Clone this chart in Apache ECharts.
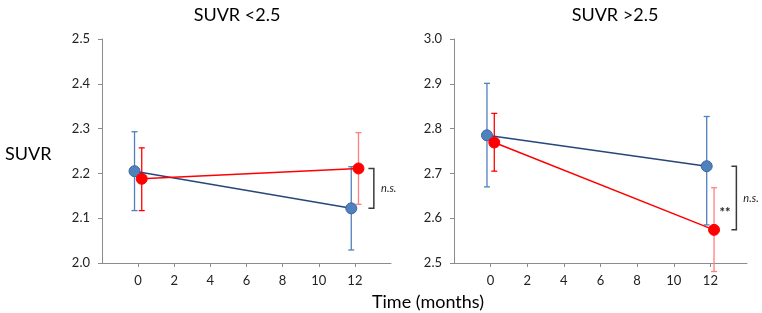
<!DOCTYPE html>
<html><head><meta charset="utf-8">
<script src="https://cdn.jsdelivr.net/npm/echarts@6/dist/echarts.min.js"></script>
<style>html,body{margin:0;padding:0;background:#fff}#c{width:762px;height:313px}</style>
</head><body><div id="c"></div>
<script>
// ---- data ----
const xTicks = [0, 2, 4, 6, 8, 10, 12];
const titles = ['SUVR <2.5', 'SUVR >2.5'];
// Left panel (SUVR < 2.5)
const lBlueX = [-0.2, 11.8], lBlueY = [2.205, 2.122], lBlueLo = [2.117, 2.029], lBlueHi = [2.293, 2.215];
const lRedX = [0.2, 12.2], lRedY = [2.188, 2.211], lRedLo = [2.117, 2.131], lRedHi = [2.257, 2.291];
// Right panel (SUVR > 2.5)
const rBlueX = [-0.2, 11.8], rBlueY = [2.785, 2.716], rBlueLo = [2.670, 2.585], rBlueHi = [2.901, 2.827];
const rRedX = [0.2, 12.2], rRedY = [2.769, 2.574], rRedLo = [2.705, 2.481], rRedHi = [2.834, 2.668];
// annotations: bracket [x0, x1, yTop, yBottom], texts [x, y, label]
const lBracket = [12.75, 13.05, 2.211, 2.122];
const rBracket = [13.15, 13.42, 2.716, 2.574];
const lTexts = [[13.45, 2.167, 'n.s.']];
const rTexts = [[13.8, 2.645, 'n.s.'], [12.5, 2.611, '**']];

const FONT = 'Lato, "Open Sans", sans-serif';
const BLUE = '#4F81BD', BLUE_LINE = '#27467A', RED = '#FF0000';

function pts(xs, ys) { return xs.map((x, i) => [x, ys[i]]); }
function bars(xs, lo, hi) { return xs.map((x, i) => [x, lo[i], hi[i]]); }

function errSeries(gi, data, colors) {
  return {
    type: 'custom', xAxisIndex: gi, yAxisIndex: gi, z: 1, clip: false,
    data: data,
    renderItem: function (params, api) {
      const x = api.value(0);
      const a = api.coord([x, api.value(1)]);
      const b = api.coord([x, api.value(2)]);
      const c = 3;
      const col = colors[params.dataIndex];
      const st = { stroke: col, lineWidth: 1.3 };
      return { type: 'group', children: [
        { type: 'line', shape: { x1: a[0], y1: a[1], x2: b[0], y2: b[1] }, style: st },
        { type: 'line', shape: { x1: a[0] - c, y1: a[1], x2: a[0] + c, y2: a[1] }, style: st },
        { type: 'line', shape: { x1: b[0] - c, y1: b[1], x2: b[0] + c, y2: b[1] }, style: st }
      ]};
    }
  };
}
function lineSeries(gi, data, lineColor, fill, border) {
  return {
    type: 'line', xAxisIndex: gi, yAxisIndex: gi, z: 3, data: data,
    symbol: 'circle', symbolSize: 11,
    lineStyle: { color: lineColor, width: 1.5 },
    itemStyle: { color: fill, borderColor: border, borderWidth: 1 },
    emphasis: { disabled: true }, animation: false
  };
}
function bracketSeries(gi, b) {
  return {
    type: 'custom', xAxisIndex: gi, yAxisIndex: gi, z: 4, clip: false,
    data: [b],
    renderItem: function (params, api) {
      const p0 = api.coord([api.value(0), api.value(2)]);
      const p1 = api.coord([api.value(1), api.value(2)]);
      const p2 = api.coord([api.value(1), api.value(3)]);
      const p3 = api.coord([api.value(0), api.value(3)]);
      return { type: 'polyline', shape: { points: [p0, p1, p2, p3] },
        style: { stroke: '#3a3a3a', lineWidth: 1.5, fill: null } };
    }
  };
}
function textSeries(gi, data) {
  return {
    type: 'custom', xAxisIndex: gi, yAxisIndex: gi, z: 5, clip: false,
    data: data,
    renderItem: function (params, api) {
      const p = api.coord([api.value(0), api.value(1)]);
      const t = data[params.dataIndex][2];
      return { type: 'text', x: p[0], y: p[1],
        style: { text: t, fill: '#222', font: (t === '**' ? 'bold 13px ' : 'italic 11px ') + FONT,
          textAlign: 'left', textVerticalAlign: 'middle' } };
    }
  };
}
function xAxis(gi) {
  return {
    type: 'value', gridIndex: gi, min: -2, max: 14, interval: 2,
    axisLine: { onZero: false, lineStyle: { color: '#8c8c8c', width: 1 } },
    axisTick: { show: true, length: 4, lineStyle: { color: '#8c8c8c' }, customValues: xTicks },
    axisLabel: { color: '#222', fontSize: 13, fontFamily: FONT, margin: 11, customValues: xTicks },
    splitLine: { show: false }
  };
}
function yAxis(gi, min, max) {
  return {
    type: 'value', gridIndex: gi, min: min, max: max, interval: 0.1,
    axisLine: { show: true, onZero: false, lineStyle: { color: '#8c8c8c', width: 1 } },
    axisTick: { show: true, length: 4, lineStyle: { color: '#8c8c8c' } },
    axisLabel: { color: '#222', fontSize: 13, fontFamily: FONT, margin: 12,
      formatter: v => v.toFixed(1) },
    splitLine: { show: false }
  };
}

const chart = echarts.init(document.getElementById('c'));
chart.setOption({
  animation: false,
  title: [
    { text: titles[0], left: 232, top: 1, textAlign: 'center', textStyle: { fontSize: 18, fontWeight: 'normal', color: '#000', fontFamily: FONT } },
    { text: titles[1], left: 610, top: 1, textAlign: 'center', textStyle: { fontSize: 18, fontWeight: 'normal', color: '#000', fontFamily: FONT } },
    { text: 'SUVR', left: 0, top: 140, textStyle: { fontSize: 18, fontWeight: 'normal', color: '#000', fontFamily: FONT } },
    { text: 'Time (months)', left: 423, top: 288, textAlign: 'center', textStyle: { fontSize: 18, fontWeight: 'normal', color: '#000', fontFamily: FONT } }
  ],
  grid: [
    { left: 102, top: 39, width: 289, height: 224 },
    { left: 454, top: 39, width: 293, height: 224 }
  ],
  xAxis: [xAxis(0), xAxis(1)],
  yAxis: [yAxis(0, 2.0, 2.5), yAxis(1, 2.5, 3.0)],
  series: [
    errSeries(0, bars(lBlueX, lBlueLo, lBlueHi), [BLUE, BLUE]),
    errSeries(0, bars(lRedX, lRedLo, lRedHi), [RED, '#FF7F7F']),
    lineSeries(0, pts(lBlueX, lBlueY), BLUE_LINE, BLUE, '#3B64A0'),
    lineSeries(0, pts(lRedX, lRedY), RED, RED, RED),
    bracketSeries(0, lBracket),
    textSeries(0, lTexts),
    errSeries(1, bars(rBlueX, rBlueLo, rBlueHi), [BLUE, BLUE]),
    errSeries(1, bars(rRedX, rRedLo, rRedHi), [RED, '#FF7F7F']),
    lineSeries(1, pts(rBlueX, rBlueY), BLUE_LINE, BLUE, '#3B64A0'),
    lineSeries(1, pts(rRedX, rRedY), RED, RED, RED),
    bracketSeries(1, rBracket),
    textSeries(1, rTexts)
  ]
});
</script>
</body></html>
